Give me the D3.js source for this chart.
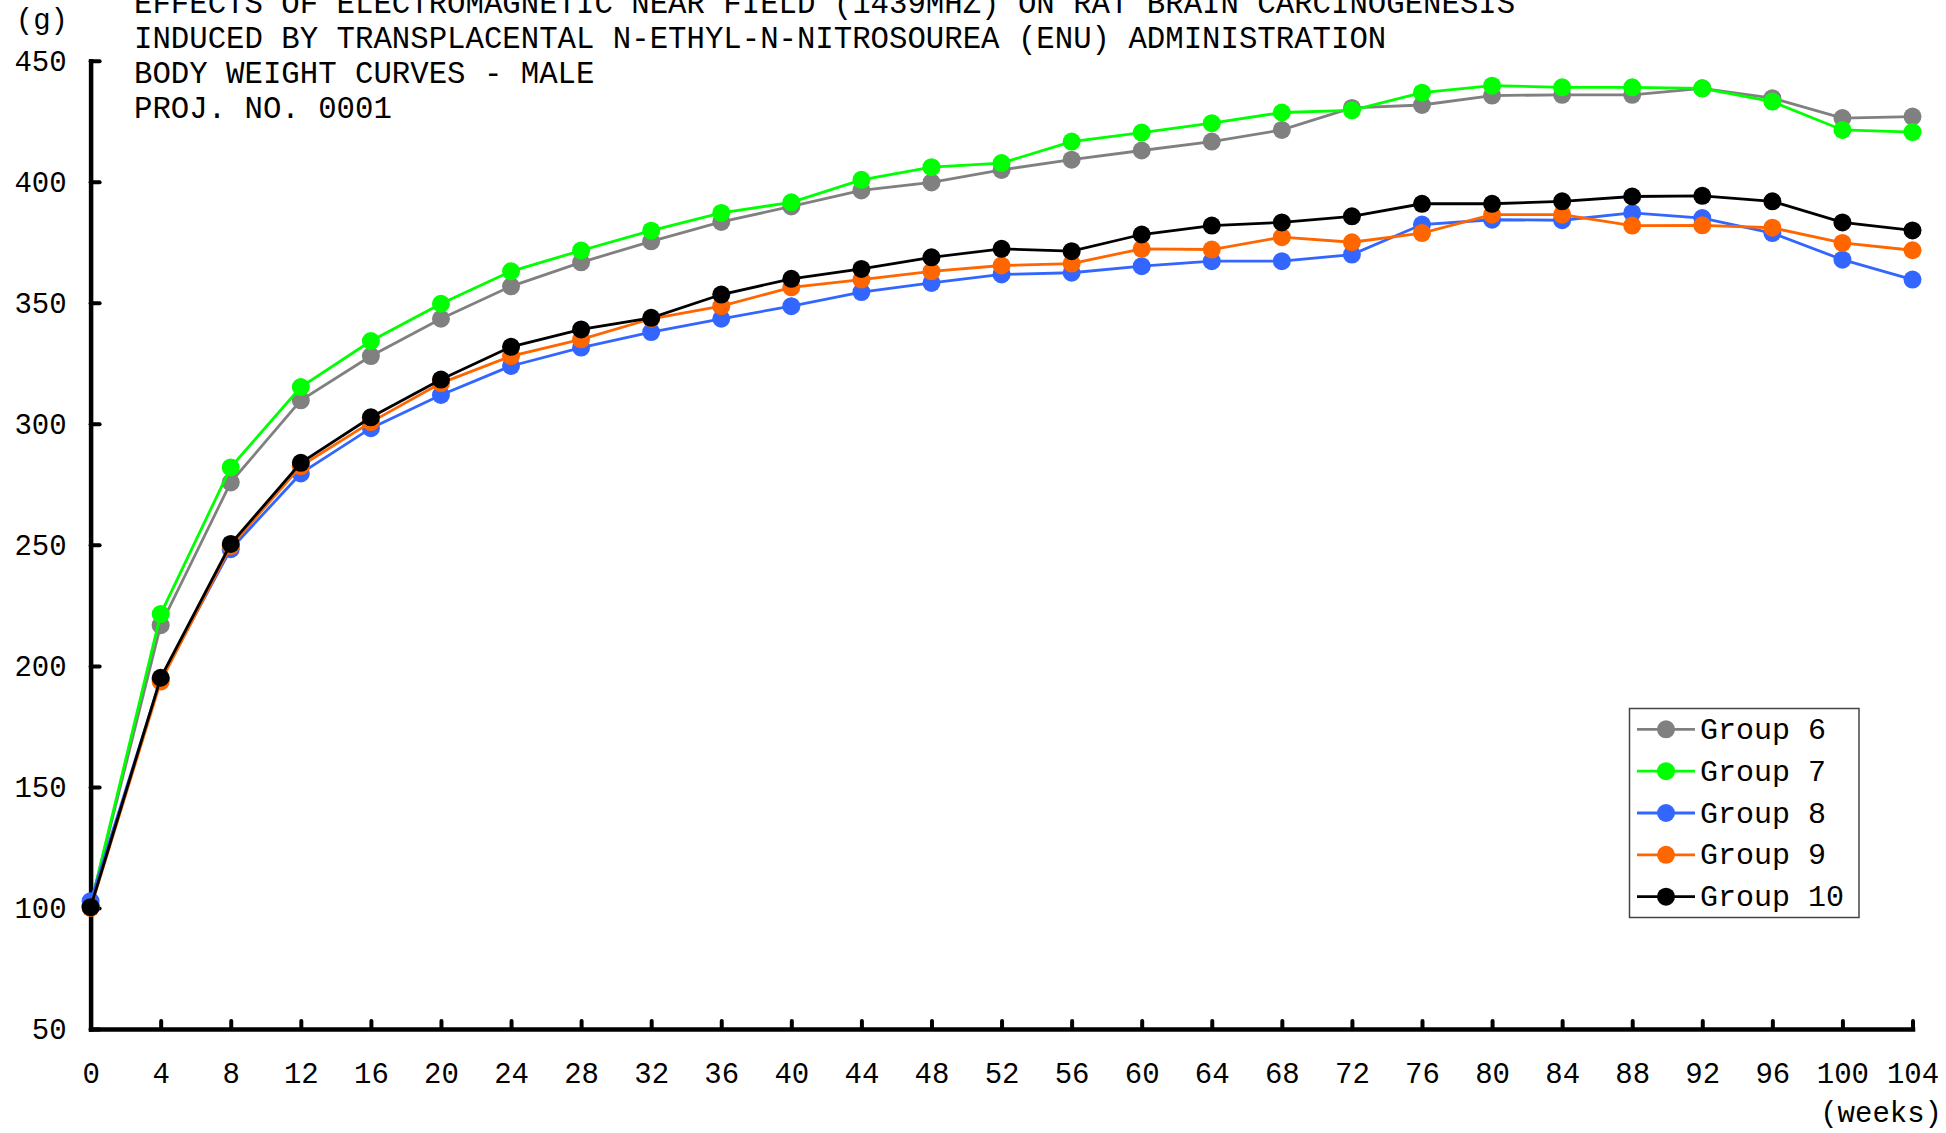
<!DOCTYPE html>
<html>
<head>
<meta charset="utf-8">
<script src="https://cdn.jsdelivr.net/npm/d3@7/dist/d3.min.js"></script>
<style>
    body { margin: 0; background: #fff; }
    text { font-family: "Liberation Mono", "DejaVu Sans Mono", monospace; fill: #000; }
</style>
</head>
<body>
<svg id="canvas" width="1946" height="1133"></svg>
<script>
let titleLines = [
    "EFFECTS OF ELECTROMAGNETIC NEAR FIELD (1439MHZ) ON RAT BRAIN CARCINOGENESIS",
    "INDUCED BY TRANSPLACENTAL N-ETHYL-N-NITROSOUREA (ENU) ADMINISTRATION",
    "BODY WEIGHT CURVES - MALE",
    "PROJ. NO. 0001"
]

let weeks = [0, 4, 8, 12, 16, 20, 24, 28, 32, 36, 40, 44, 48, 52, 56, 60, 64, 68, 72, 76, 80, 84, 88, 92, 96, 100, 104]
let yTicks = [50, 100, 150, 200, 250, 300, 350, 400, 450]

let groupNames = ["Group 6", "Group 7", "Group 8", "Group 9", "Group 10"]

let group6 = [101, 216.8, 275.8, 309.7, 328, 343.4, 356.8, 366.7, 375.4, 383.4, 389.8, 396.4, 399.7, 404.9, 409.1, 412.9, 416.6, 421.4, 430.5, 431.7, 435.6, 435.9, 435.9, 438.6, 434.5, 426.3, 426.9]
let group7 = [101, 221.4, 282, 315.2, 334.2, 349.6, 363, 371.6, 379.8, 387.1, 391.5, 400.8, 406, 407.7, 416.6, 420.3, 424.2, 428.6, 429.5, 436.8, 439.7, 439, 439, 438.6, 433.1, 421.4, 420.5]
let group8 = [102.8, 194.5, 248.2, 279.5, 298.2, 311.9, 323.9, 331.5, 337.9, 343.4, 348.6, 354.4, 358.2, 361.7, 362.4, 365.1, 367.2, 367.2, 369.9, 382.3, 384.3, 384.1, 387.1, 385, 378.8, 367.8, 359.6]
let group9 = [100, 193.5, 249.5, 282.5, 300.7, 316.8, 328, 334.9, 343.4, 348.6, 356.4, 359.6, 363, 365.4, 366.2, 372.3, 372, 377.1, 375, 378.8, 386.4, 386.4, 381.9, 382, 381, 374.7, 371.7]
let group10 = [100.3, 195.1, 250.4, 283.9, 302.7, 318.3, 331.8, 339, 343.8, 353.4, 359.9, 364, 368.8, 372.3, 371.3, 378.2, 381.9, 383.2, 385.7, 390.9, 390.9, 391.9, 393.9, 394.2, 391.9, 383.2, 379.9]

let colors = ["#808080", "#00ff00", "#3366ff", "#ff6600", "#000000"]

let series = [group6, group7, group8, group9, group10].map((vals, i) => {
    return { name: groupNames[i], color: colors[i], points: vals.map((v, j) => ({ w: weeks[j], v: v })) }
})

let canvas = d3.select("#canvas")

let x = d3.scaleLinear().domain([0, 104]).range([90.6, 1912.5])
let y = d3.scaleLinear().domain([50, 450]).range([1029, 60.7])

// title block (first line is clipped by the top edge, as in the original)
canvas.append("g")
    .selectAll("text")
    .data(titleLines)
    .enter()
    .append("text")
    .attr("x", 134)
    .attr("y", (d, i) => 12.5 + i * 35.3)
    .style("font-size", "30.7px")
    .text((d) => d)

canvas.append("text")
    .attr("x", 68)
    .attr("y", 29)
    .attr("text-anchor", "end")
    .style("font-size", "29px")
    .text("(g)")

canvas.append("text")
    .attr("x", 1942)
    .attr("y", 1122)
    .attr("text-anchor", "end")
    .style("font-size", "29px")
    .text("(weeks)")

// axes
let yAxis = d3.axisLeft(y).tickValues(yTicks).tickSize(-9).tickSizeOuter(0).tickPadding(24)
let xAxis = d3.axisBottom(x).tickValues(weeks).tickSize(-8).tickSizeOuter(0).tickPadding(33)

let gy = canvas.append("g")
    .attr("transform", `translate(${x(0)},0)`)
    .call(yAxis)
let gx = canvas.append("g")
    .attr("transform", `translate(0,${y(50)})`)
    .call(xAxis)

;[gx, gy].forEach((g) => {
    g.select(".domain").attr("stroke", "#000").attr("stroke-width", 4.5).attr("stroke-linecap", "square")
    g.selectAll(".tick line").attr("stroke", "#000").attr("stroke-width", 4).attr("stroke-linecap", "round")
    g.selectAll(".tick text")
        .attr("fill", "#000")
        .style("font-family", "'Liberation Mono', 'DejaVu Sans Mono', monospace")
        .style("font-size", "29px")
})
gy.selectAll(".tick text").attr("dy", "0.34em")
gx.selectAll(".tick").filter((d) => d === 0).select("line").remove()

// series lines and markers
let line = d3.line().x((d) => x(d.w)).y((d) => y(d.v))

let groups = canvas.append("g")
    .selectAll("g")
    .data(series)
    .enter()
    .append("g")

groups.append("path")
    .attr("d", (d) => line(d.points))
    .attr("fill", "none")
    .attr("stroke", (d) => d.color)
    .attr("stroke-width", 2.8)

groups.selectAll("circle")
    .data((d) => d.points.map((p) => ({ w: p.w, v: p.v, color: d.color })))
    .enter()
    .append("circle")
    .attr("cx", (d) => x(d.w))
    .attr("cy", (d) => y(d.v))
    .attr("r", 9)
    .attr("fill", (d) => d.color)

// legend
let legend = canvas.append("g").attr("id", "legend")
legend.append("rect")
    .attr("x", 1629.5)
    .attr("y", 708.5)
    .attr("width", 229.5)
    .attr("height", 209)
    .attr("fill", "#fff")
    .attr("stroke", "#444")
    .attr("stroke-width", 1.5)

let rows = legend.selectAll("g.row")
    .data(series)
    .enter()
    .append("g")
    .attr("class", "row")
    .attr("transform", (d, i) => `translate(0,${729.3 + i * 41.85})`)

rows.append("line")
    .attr("x1", 1637)
    .attr("x2", 1695)
    .attr("stroke", (d) => d.color)
    .attr("stroke-width", 2.8)
rows.append("circle")
    .attr("cx", 1666)
    .attr("r", 9)
    .attr("fill", (d) => d.color)
rows.append("text")
    .attr("x", 1700)
    .attr("y", 9.5)
    .style("font-size", "30px")
    .text((d) => d.name)
</script>
</body>
</html>
